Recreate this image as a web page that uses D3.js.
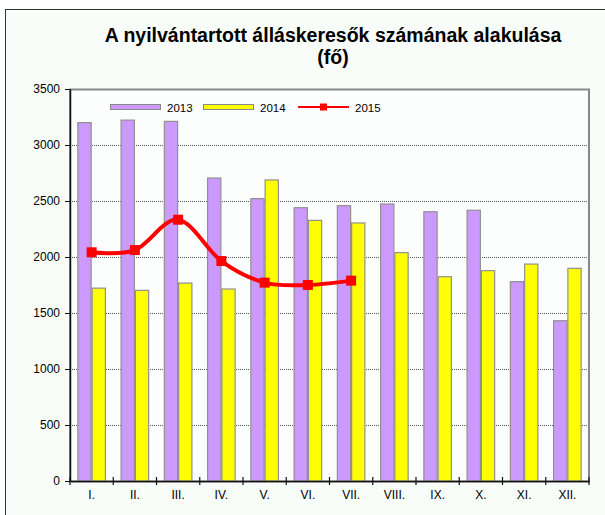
<!DOCTYPE html>
<html>
<head>
<meta charset="utf-8">
<script src="https://cdnjs.cloudflare.com/ajax/libs/d3/7.8.5/d3.min.js"></script>
<style>
  body { margin: 0; background: #fff; }
  text { font-family: "Liberation Sans", Arial, sans-serif; fill: #000; }
</style>
</head>
<body>
<svg id="chart"></svg>
<script>
// data
const months = ["I.", "II.", "III.", "IV.", "V.", "VI.", "VII.", "VIII.", "IX.", "X.", "XI.", "XII."];
const series = ["2013", "2014", "2015"];
const values2013 = [3200, 3222, 3211, 2705, 2521, 2440, 2458, 2473, 2404, 2417, 1780, 1431];
const values2014 = [1722, 1702, 1767, 1714, 2688, 2327, 2304, 2039, 1824, 1878, 1937, 1899];
const values2015 = [2042, 2062, 2333, 1964, 1771, 1750, 1789];
const yTicks = [0, 500, 1000, 1500, 2000, 2500, 3000, 3500];
const title = ["A nyilvántartott álláskeresők számának alakulása", "(fő)"];

const size = {width: 605, height: 515};
const plot = {left: 70, top: 89, right: 589, bottom: 481};

const colors = {"2013": "#cc99ff", "2014": "#ffff00", "2015": "#ff0000"};

const svg = d3.select("#chart")
    .attr("width", size.width)
    .attr("height", size.height);

// outer chart frame
svg.append("rect")
    .attr("x", 5.5).attr("y", 9.5)
    .attr("width", 610).attr("height", 520)
    .attr("fill", "#f9fdfa")
    .attr("stroke", "#333")
    .attr("stroke-width", 1);

// plot area
svg.append("rect")
    .attr("x", plot.left).attr("y", plot.top + 0.5)
    .attr("width", plot.right - plot.left).attr("height", plot.bottom - plot.top)
    .attr("fill", "#fbfefc")
    .attr("stroke", "#888")
    .attr("stroke-width", 2);

const x0 = d3.scaleBand()
    .domain(months)
    .range([plot.left, plot.right])
    .paddingInner(0.34)
    .paddingOuter(0.17);

const x1 = d3.scaleBand()
    .domain(["2013", "2014"])
    .range([0, x0.bandwidth()]);

const xc = d3.scaleBand()
    .domain(months)
    .range([plot.left, plot.right]);

const y = d3.scaleLinear()
    .domain([0, 3500])
    .range([plot.bottom, plot.top]);

// gridlines
svg.append("g")
    .selectAll("line")
    .data(yTicks.filter(d => d > 0 && d < 3500))
    .enter().append("line")
    .attr("x1", plot.left).attr("x2", plot.right - 1)
    .attr("y1", d => Math.round(y(d)) + 0.5)
    .attr("y2", d => Math.round(y(d)) + 0.5)
    .attr("stroke", "#555")
    .attr("stroke-dasharray", "1,1");

// bars
const barData = {"2013": values2013, "2014": values2014};
svg.append("g")
    .selectAll("g")
    .data(months)
    .enter().append("g")
    .attr("transform", d => "translate(" + x0(d) + ",0)")
    .selectAll("rect")
    .data((d, i) => ["2013", "2014"].map(k => ({key: k, value: barData[k][i]})))
    .enter().append("rect")
    .attr("x", d => x1(d.key) + 0.5)
    .attr("y", d => y(d.value))
    .attr("width", x1.bandwidth() - 1)
    .attr("height", d => plot.bottom - y(d.value))
    .attr("fill", d => colors[d.key])
    .attr("stroke", "#909090")
    .attr("stroke-width", 1.2);

// axes
const leftAxis = d3.axisLeft(y).tickValues(yTicks).tickFormat(d3.format("d")).tickSize(5).tickSizeOuter(0);
const gy = svg.append("g")
    .attr("transform", "translate(" + plot.left + ",0)")
    .call(leftAxis);
gy.select(".domain").attr("stroke", "#111").attr("stroke-width", 1.5);
gy.selectAll(".tick line").attr("stroke", "#111");
gy.selectAll(".tick text")
    .attr("x", -10)
    .style("font-family", "'Liberation Sans', Arial, sans-serif")
    .style("font-size", "12px")
    .attr("fill", "#000");

const bottomAxis = d3.axisBottom(xc).tickSize(0).tickSizeOuter(0);
const gx = svg.append("g")
    .attr("transform", "translate(0," + plot.bottom + ")")
    .call(bottomAxis);
gx.select(".domain").attr("stroke", "#111").attr("stroke-width", 1.5);
gx.selectAll(".tick text")
    .attr("dy", "0.71em")
    .attr("y", 9)
    .style("font-family", "'Liberation Sans', Arial, sans-serif")
    .style("font-size", "12px")
    .attr("fill", "#000");

// month separator ticks crossing the x axis
svg.append("g")
    .selectAll("line")
    .data(d3.range(months.length + 1))
    .enter().append("line")
    .attr("x1", i => i < months.length ? xc(months[i]) : plot.right)
    .attr("x2", i => i < months.length ? xc(months[i]) : plot.right)
    .attr("y1", plot.bottom - 4)
    .attr("y2", plot.bottom + 4)
    .attr("stroke", "#111")
    .attr("stroke-width", 1.2);

// 2015 smoothed line with square markers
const linePts = values2015.map((v, i) => [xc(months[i]) + xc.bandwidth() / 2, y(v)]);
svg.append("path")
    .datum(linePts)
    .attr("fill", "none")
    .attr("stroke", colors["2015"])
    .attr("stroke-width", 4)
    .attr("d", d3.line().curve(d3.curveCardinal.tension(0)));

svg.append("g")
    .selectAll("rect")
    .data(linePts)
    .enter().append("rect")
    .attr("x", d => d[0] - 5)
    .attr("y", d => d[1] - 5)
    .attr("width", 10)
    .attr("height", 10)
    .attr("fill", colors["2015"]);

// Legend
const legendX = [110, 203, 298];
const legend = svg.append("g")
    .selectAll("g")
    .data(series)
    .enter().append("g")
    .attr("transform", (d, i) => "translate(" + legendX[i] + ",104)");

legend.filter(d => d !== "2015").append("rect")
    .attr("x", 0.5).attr("y", 0.5)
    .attr("width", 50).attr("height", 5)
    .attr("fill", d => colors[d])
    .attr("stroke", "#888");

legend.filter(d => d === "2015").append("line")
    .attr("x1", 0).attr("x2", 51)
    .attr("y1", 3).attr("y2", 3)
    .attr("stroke", colors["2015"])
    .attr("stroke-width", 2);
legend.filter(d => d === "2015").append("rect")
    .attr("x", 22).attr("y", -0.5)
    .attr("width", 7).attr("height", 7)
    .attr("fill", colors["2015"]);

legend.append("text")
    .attr("x", 57)
    .attr("y", 7.5)
    .style("font-size", "11.5px")
    .text(d => d);

// Title
svg.append("g")
    .selectAll("text")
    .data(title)
    .enter().append("text")
    .attr("x", 333)
    .attr("y", (d, i) => 42 + i * 22)
    .attr("text-anchor", "middle")
    .style("font-size", "19.5px")
    .style("font-weight", "bold")
    .text(d => d);
</script>
</body>
</html>
